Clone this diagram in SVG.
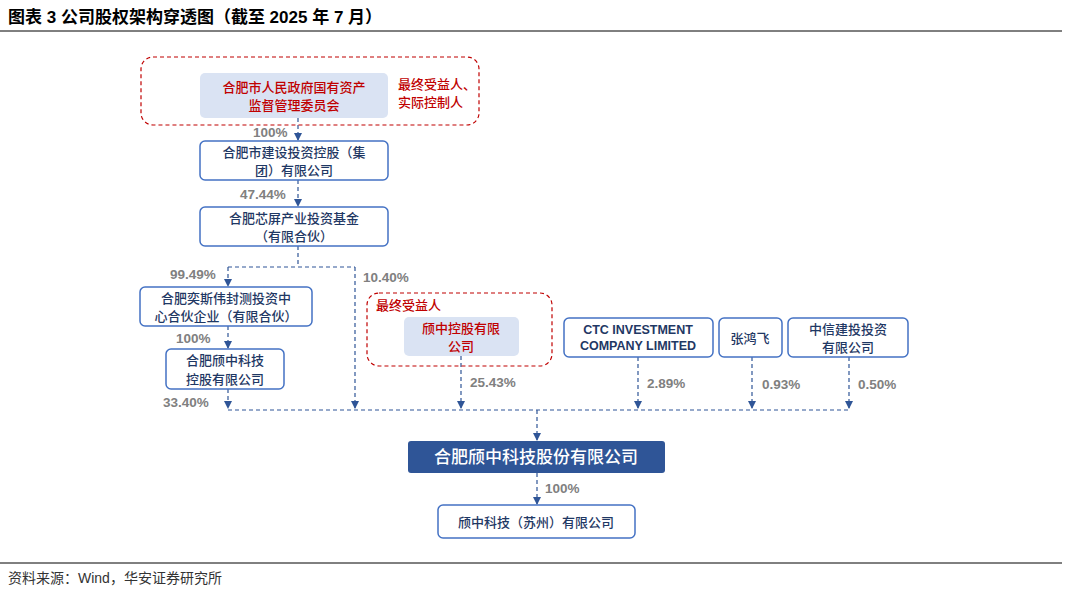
<svg xmlns="http://www.w3.org/2000/svg" width="1068" height="593" viewBox="0 0 1068 593">
<style>
text{font-family:"Liberation Sans","Noto Sans CJK SC",sans-serif}
.n{fill:#fff;stroke:#4472C4;stroke-width:1.5}
.f{fill:#DAE3F3;stroke:none}
.t{font-size:13px;fill:#1F3864;text-anchor:middle;font-weight:500}
.b{font-size:12.5px;font-weight:bold}
.r{font-size:13px;fill:#C00000;text-anchor:middle;font-weight:500}
.rd{fill:none;stroke:#C00000;stroke-width:1.2;stroke-dasharray:4 3}
.p{font-size:13.5px;font-weight:bold;fill:#808080}
.c{fill:none;stroke:#2F5597;stroke-width:1.2;stroke-dasharray:4 3}
</style>
<defs><marker id="a" viewBox="0 0 8 8" refX="7" refY="4" markerWidth="7" markerHeight="7" orient="auto"><path d="M0,0 L8,4 L0,8 z" fill="#2F5597"/></marker></defs>
<rect width="1068" height="593" fill="#fff"/>
<text x="8" y="23" font-size="17" font-weight="bold" fill="#000">图表 3 公司股权架构穿透图（截至 2025 年 7 月）</text>
<line x1="0" y1="31" x2="1062" y2="31" stroke="#000" stroke-width="1"/>
<line x1="0" y1="563" x2="1062" y2="563" stroke="#000" stroke-width="1"/>
<text x="8" y="583" font-size="14" fill="#333">资料来源：Wind，华安证券研究所</text>
<g id="connectors">
<path class="c" d="M298,118 V140" marker-end="url(#a)"/>
<path class="c" d="M298,180 V206" marker-end="url(#a)"/>
<path class="c" d="M298,246 V267 M228,267 H355"/>
<path class="c" d="M228,267 V286" marker-end="url(#a)"/>
<path class="c" d="M355,267 V408" marker-end="url(#a)"/>
<path class="c" d="M228,326 V348" marker-end="url(#a)"/>
<path class="c" d="M228,389 V408" marker-end="url(#a)"/>
<path class="c" d="M461,356 V408" marker-end="url(#a)"/>
<path class="c" d="M638,357 V408" marker-end="url(#a)"/>
<path class="c" d="M752,357 V408" marker-end="url(#a)"/>
<path class="c" d="M849,357 V408" marker-end="url(#a)"/>
<path class="c" d="M228,410 H849"/>
<path class="c" d="M537,410 V440" marker-end="url(#a)"/>
<path class="c" d="M537,473 V504" marker-end="url(#a)"/>
<text class="p" x="253" y="137">100%</text>
<text class="p" x="240" y="199">47.44%</text>
<text class="p" x="170" y="279">99.49%</text>
<text class="p" x="363" y="282">10.40%</text>
<text class="p" x="176" y="343">100%</text>
<text class="p" x="163" y="407">33.40%</text>
<text class="p" x="470" y="387">25.43%</text>
<text class="p" x="647" y="388">2.89%</text>
<text class="p" x="762" y="389">0.93%</text>
<text class="p" x="858" y="389">0.50%</text>
<text class="p" x="545" y="493">100%</text>
</g>
<g id="n1">
<rect class="rd" x="141" y="57" width="338" height="68" rx="12"/>
<rect class="f" x="200" y="73" width="188" height="45" rx="5"/>
<text class="r" x="294" y="92">合肥市人民政府国有资产</text>
<text class="r" x="294" y="110">监督管理委员会</text>
<text x="398" y="89" font-size="13" fill="#C00000" font-weight="500">最终受益人、</text>
<text x="398" y="107" font-size="13" fill="#C00000" font-weight="500">实际控制人</text>
</g>
<g id="n2"><rect class="n" x="200" y="141" width="188" height="39" rx="5"/>
<text class="t" x="294" y="157">合肥市建设投资控股（集</text><text class="t" x="294" y="175">团）有限公司</text></g>
<g id="n3"><rect class="n" x="200" y="207" width="188" height="39" rx="5"/>
<text class="t" x="294" y="223">合肥芯屏产业投资基金</text><text class="t" x="294" y="241">（有限合伙）</text></g>
<g id="n4"><rect class="n" x="140" y="287" width="172" height="39" rx="5"/>
<text class="t" x="226" y="303">合肥奕斯伟封测投资中</text><text class="t" x="226" y="321">心合伙企业（有限合伙）</text></g>
<g id="n5"><rect class="n" x="166" y="349" width="118" height="40" rx="5"/>
<text class="t" x="225" y="365">合肥颀中科技</text><text class="t" x="225" y="384">控股有限公司</text></g>
<g id="n6">
<rect class="rd" x="367" y="293" width="185" height="73" rx="12"/>
<text x="376" y="310" font-size="13" fill="#C00000" font-weight="500">最终受益人</text>
<rect class="f" x="404" y="317" width="115" height="39" rx="5"/>
<text class="r" x="461" y="333">颀中控股有限</text><text class="r" x="461" y="351">公司</text></g>
<g id="n7"><rect class="n" x="564" y="318" width="149" height="39" rx="5"/>
<text class="t b" x="638" y="334">CTC INVESTMENT</text><text class="t b" x="638" y="350">COMPANY LIMITED</text></g>
<g id="n8"><rect class="n" x="719" y="318" width="63" height="39" rx="5"/>
<text class="t" x="750" y="343">张鸿飞</text></g>
<g id="n9"><rect class="n" x="788" y="318" width="120" height="39" rx="5"/>
<text class="t" x="848" y="334">中信建投投资</text><text class="t" x="848" y="352">有限公司</text></g>
<g id="n10"><rect x="408" y="441" width="257" height="32" rx="3" fill="#2F5597"/>
<text x="536" y="463" font-size="17" fill="#fff" text-anchor="middle" font-weight="500">合肥颀中科技股份有限公司</text></g>
<g id="n11"><rect class="n" x="438" y="505" width="197" height="33" rx="5"/>
<text class="t" x="536" y="527">颀中科技（苏州）有限公司</text></g>
</svg>
